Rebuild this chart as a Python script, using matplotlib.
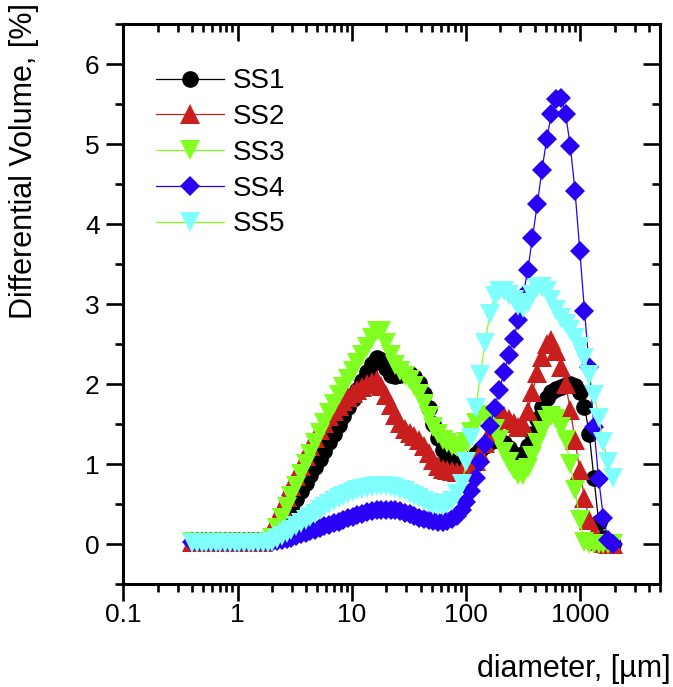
import numpy as np
import matplotlib
matplotlib.use("Agg")
import matplotlib.pyplot as plt
from matplotlib.ticker import LogLocator, MultipleLocator, NullFormatter

plt.rcParams['font.family'] = ['Liberation Sans', 'DejaVu Sans']

# ===========================================
# DATI (diametro in um, volume differenziale in %)
# ===========================================
diameter = [0.400, 0.440, 0.484, 0.532, 0.586, 0.644, 0.709, 0.779, 0.857, 0.943,
            1.04, 1.14, 1.26, 1.38, 1.52, 1.67, 1.84, 2.02, 2.22, 2.45,
            2.69, 2.96, 3.26, 3.58, 3.94, 4.33, 4.77, 5.24, 5.77, 6.34,
            6.98, 7.68, 8.44, 9.29, 10.2, 11.2, 12.4, 13.6, 15.0, 16.5,
            18.1, 19.9, 21.9, 24.1, 26.5, 29.2, 32.1, 35.3, 38.8, 42.7,
            47.0, 51.7, 56.8, 62.5, 68.8, 75.6, 83.2, 91.5, 101, 111,
            122, 134, 147, 162, 178, 196, 216, 237, 261, 287,
            316, 348, 382, 421, 463, 509, 560, 616, 677, 745,
            819, 901, 992, 1091, 1200, 1320, 1452, 1597, 1757, 1932]

ss1 = [0.02, 0.02, 0.02, 0.02, 0.02, 0.02, 0.02, 0.02, 0.02, 0.02,
       0.02, 0.02, 0.02, 0.02, 0.02, 0.02, 0.02, 0.05, 0.13, 0.23,
       0.34, 0.45, 0.56, 0.66, 0.76, 0.86, 0.96, 1.06, 1.16, 1.27,
       1.38, 1.49, 1.60, 1.71, 1.82, 1.93, 2.04, 2.15, 2.25, 2.33,
       2.30, 2.20, 2.11, 2.10, 2.12, 2.14, 2.13, 2.09, 2.01, 1.88,
       1.70, 1.50, 1.32, 1.18, 1.08, 1.02, 1.00, 1.00, 1.03, 1.07,
       1.12, 1.17, 1.23, 1.28, 1.30, 1.30, 1.26, 1.20, 1.13, 1.10,
       1.12, 1.22, 1.38, 1.56, 1.72, 1.83, 1.90, 1.94, 1.97, 1.99,
       2.00, 1.98, 1.90, 1.72, 1.38, 0.82, 0.28, 0.08, 0.02, 0.00]

ss2 = [0.02, 0.02, 0.02, 0.02, 0.02, 0.02, 0.02, 0.02, 0.02, 0.02,
       0.02, 0.02, 0.02, 0.02, 0.02, 0.02, 0.08, 0.20, 0.33, 0.46,
       0.59, 0.72, 0.85, 0.98, 1.10, 1.22, 1.33, 1.43, 1.52, 1.60,
       1.67, 1.73, 1.79, 1.84, 1.89, 1.93, 1.97, 2.00, 2.03, 2.05,
       1.98, 1.86, 1.74, 1.62, 1.52, 1.44, 1.39, 1.35, 1.30, 1.23,
       1.14, 1.05, 0.98, 0.94, 0.92, 0.91, 0.90, 0.90, 0.92, 0.97,
       1.04, 1.14, 1.26, 1.40, 1.52, 1.58, 1.60, 1.57, 1.51, 1.47,
       1.50, 1.66, 1.90, 2.14, 2.34, 2.50, 2.55, 2.42, 2.22, 2.00,
       1.68, 1.30, 0.92, 0.58, 0.30, 0.12, 0.04, 0.01, 0.00, 0.00]

ss3 = [0.02, 0.02, 0.02, 0.02, 0.02, 0.02, 0.02, 0.02, 0.02, 0.02,
       0.02, 0.02, 0.02, 0.02, 0.02, 0.02, 0.02, 0.08, 0.20, 0.33,
       0.46, 0.60, 0.73, 0.87, 1.00, 1.13, 1.26, 1.39, 1.52, 1.64,
       1.75, 1.86, 1.97, 2.07, 2.17, 2.27, 2.37, 2.47, 2.58, 2.67,
       2.67, 2.52, 2.36, 2.24, 2.16, 2.10, 2.05, 1.98, 1.88, 1.75,
       1.60, 1.47, 1.37, 1.30, 1.26, 1.23, 1.21, 1.21, 1.27, 1.40,
       1.52, 1.60, 1.62, 1.56, 1.44, 1.30, 1.15, 1.02, 0.92, 0.86,
       0.86, 0.95, 1.10, 1.26, 1.42, 1.55, 1.60, 1.57, 1.47, 1.30,
       1.00, 0.68, 0.30, 0.02, 0.00, 0.00, 0.00, 0.00, 0.00, 0.00]

ss4 = [0.02, 0.02, 0.02, 0.02, 0.02, 0.02, 0.02, 0.02, 0.02, 0.02,
       0.02, 0.02, 0.02, 0.02, 0.02, 0.02, 0.02, 0.03, 0.04, 0.05,
       0.06, 0.08, 0.10, 0.12, 0.14, 0.16, 0.18, 0.20, 0.22, 0.24,
       0.26, 0.28, 0.30, 0.32, 0.34, 0.36, 0.38, 0.40, 0.41, 0.42,
       0.43, 0.43, 0.43, 0.42, 0.41, 0.39, 0.37, 0.35, 0.33, 0.31,
       0.30, 0.29, 0.28, 0.28, 0.29, 0.31, 0.35, 0.42, 0.53, 0.66,
       0.82, 1.02, 1.25, 1.48, 1.70, 1.93, 2.15, 2.36, 2.57, 2.80,
       3.10, 3.43, 3.83, 4.25, 4.68, 5.06, 5.38, 5.56, 5.58, 5.38,
       4.98, 4.42, 3.67, 2.92, 2.21, 1.46, 0.81, 0.33, 0.05, 0.00]

ss5 = [0.01, 0.01, 0.01, 0.01, 0.01, 0.01, 0.01, 0.01, 0.01, 0.01,
       0.01, 0.01, 0.01, 0.01, 0.01, 0.01, 0.01, 0.03, 0.06, 0.10,
       0.14, 0.18, 0.22, 0.26, 0.30, 0.34, 0.38, 0.42, 0.46, 0.50,
       0.54, 0.57, 0.60, 0.63, 0.65, 0.67, 0.69, 0.70, 0.71, 0.72,
       0.72, 0.72, 0.71, 0.70, 0.68, 0.66, 0.63, 0.60, 0.57, 0.54,
       0.51, 0.49, 0.48, 0.48, 0.50, 0.54, 0.62, 0.75, 1.02, 1.33,
       1.70, 2.12, 2.52, 2.88, 3.10, 3.17, 3.17, 3.12, 3.05, 2.98,
       2.95, 3.02, 3.12, 3.20, 3.22, 3.16, 3.05, 2.93, 2.83, 2.75,
       2.68, 2.58, 2.47, 2.33, 2.12, 1.87, 1.58, 1.27, 1.02, 0.82]

labels = ['SS1', 'SS2', 'SS3', 'SS4', 'SS5']
markers = ['o', '^', 'v', 'D', 'v']
msizes = [12, 14, 14, 10.2, 14]
face_colors = ['#000000', '#c81e1e', '#80ff20', '#2a00f5', '#80ffff']
line_colors = ['#000000', '#c81e1e', '#80ff20', '#2a00f5', '#80ff20']
series = [ss1, ss2, ss3, ss4, ss5]

# ===========================================
# GRAFICO
# ===========================================
fig = plt.figure(figsize=(6.73, 6.87), dpi=100)
ax = fig.add_axes([0.1832, 0.1499, 0.7975, 0.8147])

for y, lab, mk, ms, fc, lc in zip(series, labels, markers, msizes,
                                  face_colors, line_colors):
    ax.plot(diameter, y, color=lc, lw=0.9, marker=mk, ms=ms,
            markerfacecolor=fc, markeredgecolor=fc, markeredgewidth=0, label=lab)

ax.set_xscale('log')
ax.set_xlim(0.1, 5000)
ax.set_ylim(-0.5, 6.5)
ax.set_xticks([0.1, 1, 10, 100, 1000])
ax.set_xticklabels(['0.1', '1', '10', '100', '1000'])
ax.xaxis.set_minor_locator(LogLocator(base=10, subs=np.arange(2, 10)))
ax.xaxis.set_minor_formatter(NullFormatter())
ax.set_yticks([0, 1, 2, 3, 4, 5, 6])
ax.yaxis.set_minor_locator(MultipleLocator(0.5))

for s in ax.spines.values():
    s.set_linewidth(2.2)

ax.tick_params(which='both', direction='out', width=1.9, labelsize=19,
               top=False, right=False)
ax.tick_params(which='major', length=12)
ax.tick_params(which='minor', length=6)
ax.tick_params(axis='x', which='both', pad=1.5)
ax.tick_params(axis='y', which='both', pad=5)

# tacche interne sui lati superiore e destro
axr = ax.twinx()
axr.set_ylim(ax.get_ylim())
axr.yaxis.set_major_locator(MultipleLocator(1))
axr.yaxis.set_minor_locator(MultipleLocator(0.5))
axr.tick_params(which='both', direction='in', width=1.9, labelright=False)
axr.tick_params(which='major', length=12)
axr.tick_params(which='minor', length=6)
axt = ax.twiny()
axt.set_xscale('log')
axt.set_xlim(ax.get_xlim())
axt.xaxis.set_major_locator(LogLocator(base=10))
axt.xaxis.set_minor_locator(LogLocator(base=10, subs=np.arange(2, 10)))
axt.tick_params(which='both', direction='in', width=1.9, labeltop=False)
axt.tick_params(which='major', length=12)
axt.tick_params(which='minor', length=6)
for a in (axr, axt):
    for s in a.spines.values():
        s.set_visible(False)

ax.legend(loc='upper left', bbox_to_anchor=(0.03, 0.951), frameon=False,
          fontsize=20, numpoints=1, handlelength=2.45, handletextpad=0.3,
          labelspacing=0.35, borderaxespad=0.2)

fig.text(0.035, 0.995, 'Differential Volume, [%]', rotation=90,
         ha='center', va='top', fontsize=22)
fig.text(0.997, 0.005, 'diameter, [\u00b5m]', ha='right', va='bottom', fontsize=22)

fig.savefig('out.png', dpi=100)
